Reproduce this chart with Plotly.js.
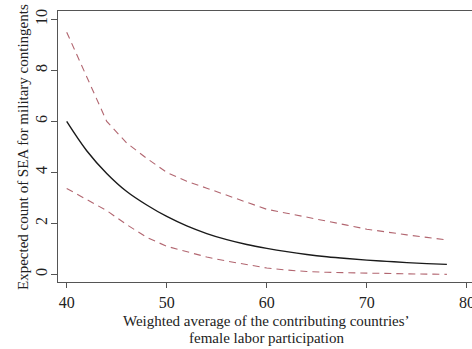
<!DOCTYPE html>
<html>
<head>
<meta charset="utf-8">
<script src="https://cdn.plot.ly/plotly-3.0.1.min.js"></script>
<style>html,body{margin:0;padding:0;background:#fff;}#chart{width:472px;height:349px;}</style>
</head>
<body>
<div id="chart"></div>
<script>
const femaleLabor = [40,42,44,46,48,50,52,54,56,58,60,62,64,66,68,70,72,74,76,78];
const expectedCount = [6.0,4.85,3.96,3.25,2.72,2.27,1.9,1.6,1.36,1.17,1.02,0.89,0.78,0.69,0.62,0.56,0.51,0.46,0.42,0.39];
const upperBound = [9.5,7.75,6.0,5.15,4.55,4.0,3.65,3.38,3.1,2.8,2.55,2.4,2.25,2.08,1.93,1.77,1.65,1.55,1.45,1.35];
const lowerBound = [3.37,2.95,2.5,1.95,1.45,1.1,0.88,0.68,0.52,0.38,0.25,0.17,0.11,0.08,0.06,0.04,0.03,0.02,0.01,0.0];
const xTicks = [40,50,60,70,80];
const yTicks = [0,2,4,6,8,10];
const xTitle1 = "Weighted average of the contributing countries’";
const xTitle2 = "female labor participation";
const yTitle = "Expected count of SEA for military contingents";

const serif = "Liberation Serif, Times New Roman, serif";
const ciColor = "rgb(178,102,112)";

const traces = [
  {x: femaleLabor, y: upperBound, mode: "lines", line: {color: ciColor, width: 1.1, dash: "7px,5px"}, hoverinfo: "skip"},
  {x: femaleLabor, y: lowerBound, mode: "lines", line: {color: ciColor, width: 1.1, dash: "7px,5px"}, hoverinfo: "skip"},
  {x: femaleLabor, y: expectedCount, mode: "lines", line: {color: "#1a1a1a", width: 1.4, shape: "spline"}, hoverinfo: "skip"}
];

const layout = {
  width: 472, height: 349,
  margin: {l: 58, r: 0, t: 11, b: 67, pad: 0},
  paper_bgcolor: "#fff", plot_bgcolor: "#fff",
  showlegend: false,
  font: {family: serif, size: 15, color: "#222"},
  xaxis: {
    range: [39.13, 80.51], tickvals: xTicks, ticktext: xTicks.map(String),
    showgrid: false, zeroline: false,
    showline: true, mirror: true, linecolor: "#555", linewidth: 1,
    ticks: "outside", ticklen: 5, tickwidth: 1, tickcolor: "#555",
    tickfont: {family: serif, size: 16, color: "#222"}, ticklabelstandoff: 1,
    ticklabeloverflow: "allow"
  },
  yaxis: {
    range: [-0.30, 10.33], tickvals: yTicks, ticktext: yTicks.map(String),
    showgrid: false, zeroline: false,
    showline: true, mirror: false, linecolor: "#555", linewidth: 1,
    ticks: "outside", ticklen: 6, tickwidth: 1, tickcolor: "#555",
    tickangle: -90,
    tickfont: {family: serif, size: 16, color: "#222"}, ticklabelstandoff: -2
  },
  annotations: [
    {text: xTitle1, xref: "paper", yref: "paper", x: (266-58)/414, y: (282-321)/271, xanchor: "center", yanchor: "middle", showarrow: false, font: {family: serif, size: 15, color: "#222"}},
    {text: xTitle2, xref: "paper", yref: "paper", x: (266-58)/414, y: (282-338)/271, xanchor: "center", yanchor: "middle", showarrow: false, font: {family: serif, size: 15, color: "#222"}},
    {text: yTitle, xref: "paper", yref: "paper", x: (23-58)/414, y: (282-147)/271, xanchor: "center", yanchor: "middle", textangle: -90, showarrow: false, font: {family: serif, size: 15, color: "#222"}}
  ]
};

Plotly.newPlot("chart", traces, layout, {displayModeBar: false, staticPlot: true});
</script>
</body>
</html>
